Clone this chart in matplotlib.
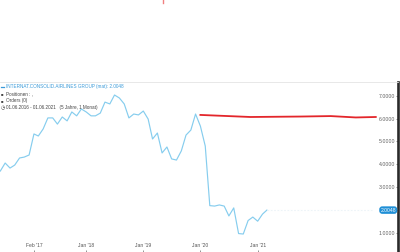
import matplotlib
matplotlib.use('Agg')
import matplotlib.pyplot as plt
from matplotlib.lines import Line2D
import pandas as pd

plt.rcParams['font.family'] = ['Liberation Sans', 'DejaVu Sans']

# ---- data ----
months = pd.date_range('2016-07-01', periods=57, freq='MS')
price = [3.71, 4.06, 3.84, 3.97, 4.28, 4.32, 4.41, 5.33, 5.24, 5.55,
         6.03, 6.03, 5.76, 6.07, 5.90, 6.29, 6.12, 6.42, 6.29, 6.12,
         6.12, 6.24, 6.72, 6.64, 7.03, 6.90, 6.64, 6.03, 6.20, 6.16,
         6.33, 5.98, 5.11, 5.37, 4.50, 4.76, 4.24, 4.19, 4.59, 5.28,
         5.50, 6.20, 5.67, 4.80, 2.20, 2.18, 2.23, 2.18, 1.75, 2.10,
         0.98, 0.96, 1.55, 1.70, 1.52, 1.83, 2.0048]
target_dates = pd.to_datetime(['2020-01-01', '2020-11-16', '2021-10-03',
                               '2022-04-13', '2022-09-20', '2023-01-26'])
target = [6.16, 6.07, 6.09, 6.11, 6.05, 6.07]
faint_dates = pd.to_datetime(['2021-03-01', '2023-01-10'])
faint = [2.0048, 2.0048]
last_value = 2.0048
y_ticks = [1, 2, 3, 4, 5, 6, 7]
# the 2.0000 label is hidden behind the last-value box in the reference
y_tick_labels = ['1.0000', '', '3.0000', '4.0000', '5.0000', '6.0000', '7.0000']
x_ticks = pd.to_datetime(['2017-02-01', '2018-01-01', '2019-01-01', '2020-01-01', '2021-01-01'])
x_tick_labels = ["Feb '17", "Jan '18", "Jan '19", "Jan '20", "Jan '21"]
legend_lines = ['INTERNAT.CONSOLID.AIRLINES GROUP (mat): 2.0048',
                'Positionen : ,',
                'Orders (0)',
                '01.06.2016 - 01.06.2021   (5 Jahre, 1 Monat)']

W, H = 400, 252
fig = plt.figure(figsize=(W / 100, H / 100), dpi=100)
ax = fig.add_axes([0, 0, 398 / W, 170 / H])

ax.plot(months, price, color='#86cdee', lw=0.85, solid_joinstyle='round')
ax.plot(faint_dates, faint, color='#edf4f8', lw=0.8, ls=(0, (1.5, 1.5)))
ax.plot(target_dates, target, color='#e3262b', lw=1.3)

ax.set_xlim(pd.Timestamp('2016-06-29'), pd.Timestamp('2023-06-17'))
ax.set_ylim(0.175, 7.598)

for s in ['left', 'bottom']:
    ax.spines[s].set_visible(False)
ax.spines['top'].set_color('#e4e4e4')
ax.spines['top'].set_linewidth(0.6)
ax.spines['right'].set_color('#2a2a2a')
ax.spines['right'].set_linewidth(1.9)

ax.set_yticks(y_ticks)
ax.set_yticklabels(y_tick_labels)
ax.yaxis.tick_right()
ax.tick_params(axis='y', direction='in', length=1.6, width=0.5, color='#666666',
               pad=-2.0, labelsize=3.8, labelcolor='#606060')
for lab in ax.get_yticklabels():
    lab.set_horizontalalignment('right')

ax.set_xticks(x_ticks)
ax.set_xticklabels(x_tick_labels)
ax.tick_params(axis='x', direction='in', length=1.6, width=0.5, color='#666666',
               pad=-6.2, labelsize=3.6, labelcolor='#555555')

# last value box
ax.annotate(f'{last_value:.4f}', xy=(0.995, last_value), xycoords=('axes fraction', 'data'),
            ha='right', va='center', fontsize=3.6, color='white',
            bbox=dict(boxstyle='round,pad=0.25,rounding_size=0.6', fc='#1f8fd6', ec='none'))

# legend text (figure pixel coordinates)
def fy(py):
    return 1 - py / H

fig.add_artist(Line2D([1 / W, 4 / W], [fy(86.5)] * 2, color='#3a9ad9', lw=0.9))
fig.text(6 / W, fy(86.5), legend_lines[0], fontsize=3.3, color='#3a9ad9', va='center')
fig.text(1.2 / W, fy(93.7), '\u25a0', fontsize=3.0, color='#444444', va='center')
fig.text(6 / W, fy(93.7), legend_lines[1], fontsize=3.3, color='#444444', va='center')
fig.text(1.2 / W, fy(100.7), '\u25a0', fontsize=3.0, color='#444444', va='center')
fig.text(6 / W, fy(100.7), legend_lines[2], fontsize=3.3, color='#444444', va='center')
fig.text(0.8 / W, fy(107.7), '\u25f7', fontsize=3.6, color='#444444', va='center',
         family=['DejaVu Sans'])
fig.text(6 / W, fy(107.7), legend_lines[3], fontsize=3.3, color='#444444', va='center')

# small red mark at top
fig.add_artist(Line2D([163 / W, 163 / W], [1.0, fy(2.5)], color='#f08080', lw=1.0))

fig.savefig('out.png', dpi=100, facecolor='white')
